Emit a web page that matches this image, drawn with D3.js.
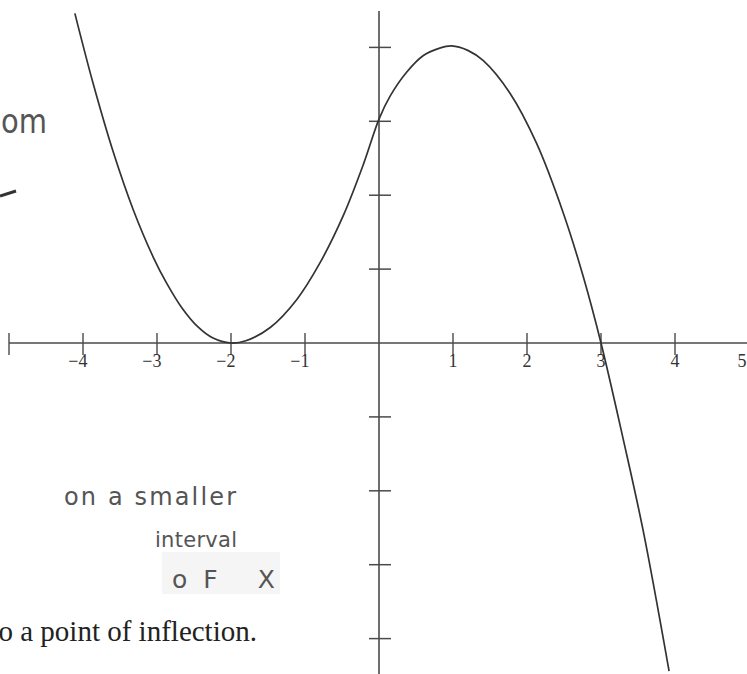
<!DOCTYPE html>
<html>
<head>
<meta charset="utf-8">
<script src="https://cdn.jsdelivr.net/npm/d3@7"></script>
<style>
  html, body { margin: 0; padding: 0; background: #fff; }
  svg { display: block; }
</style>
</head>
<body>
<svg id="chart" width="747" height="674"></svg>
<script>
// Sampled points along the curve y = f(x)
const curveX = [-4.11, -3.86, -3.59, -3.32, -3.05, -2.87, -2.66, -2.45, -2.25, -2.0, -1.80, -1.47, -1.11, -0.80, -0.48, -0.21, 0.0, 0.15, 0.37, 0.60, 0.82, 0.98, 1.20, 1.41, 1.77, 2.13, 2.49, 2.76, 3.0, 3.30, 3.57, 3.92];
const curveY = [4.46, 3.50, 2.58, 1.80, 1.16, 0.81, 0.47, 0.22, 0.07, 0.0, 0.03, 0.21, 0.59, 1.08, 1.73, 2.42, 3.03, 3.34, 3.66, 3.89, 3.99, 4.02, 3.96, 3.82, 3.38, 2.70, 1.76, 0.90, 0.0, -1.30, -2.54, -4.44];

// Axis ticks
const xTicks = [-5, -4, -3, -2, -1, 1, 2, 3, 4, 5];
const xTickLabels = ["", "−4", "−3", "−2", "−1", "1", "2", "3", "4", "5"];
const yTicks = [-4, -3, -2, -1, 1, 2, 3, 4];

// Handwritten notes
const noteLines = ["on a smaller", "interval", "oF X"];

const svg = d3.select("#chart");
const W = 747, H = 674;

const x = d3.scaleLinear().domain([-5, 5]).range([9, 749]);
const y = d3.scaleLinear().domain([-4, 4]).range([638.6, 47.4]);

const axisColor = "#4a4a4a";
const x0 = x(0), y0 = y(0);

// faint patch of the page behind the last note line
svg.append("rect")
  .attr("x", 162).attr("y", 552).attr("width", 118).attr("height", 42)
  .attr("fill", "#f5f5f5");

// x-axis line
svg.append("line")
  .attr("x1", x(-5)).attr("x2", W)
  .attr("y1", y0).attr("y2", y0)
  .attr("stroke", axisColor).attr("stroke-width", 1.4);

// y-axis line
svg.append("line")
  .attr("x1", x0).attr("x2", x0)
  .attr("y1", 11).attr("y2", H)
  .attr("stroke", axisColor).attr("stroke-width", 1.6);

// x ticks
svg.append("g").selectAll("line").data(xTicks).join("line")
  .attr("x1", d => x(d)).attr("x2", d => x(d))
  .attr("y1", y0 - 10).attr("y2", y0 + 12)
  .attr("stroke", axisColor).attr("stroke-width", 1.4);

// y ticks
svg.append("g").selectAll("line").data(yTicks).join("line")
  .attr("x1", x0 - 10).attr("x2", x0 + 12)
  .attr("y1", d => y(d)).attr("y2", d => y(d))
  .attr("stroke", axisColor).attr("stroke-width", 1.5);

// x tick labels: digit centred on its tick, minus sign hanging to the left;
// the last one is pulled in so it stays on the page
svg.append("g").selectAll("text").data(xTicks).join("text")
  .attr("x", d => d < 0 ? x(d) + 4.5 : Math.min(x(d), W - 5))
  .attr("y", y0 + 24)
  .attr("text-anchor", d => d < 0 ? "end" : "middle")
  .attr("font-family", "Liberation Serif, Times New Roman, serif")
  .attr("font-size", 18)
  .attr("fill", "#333")
  .text((d, i) => xTickLabels[i]);

// the curve
const pts = curveX.map((v, i) => [v, curveY[i]]);
const line = d3.line()
  .x(d => x(d[0]))
  .y(d => y(d[1]))
  .curve(d3.curveCatmullRom.alpha(0.5));

svg.append("path")
  .datum(pts)
  .attr("d", line)
  .attr("fill", "none")
  .attr("stroke", "#333")
  .attr("stroke-width", 1.7);

// handwritten margin notes
const hand = svg.append("g")
  .attr("font-family", "DejaVu Sans, sans-serif")
  .attr("fill", "#555");

hand.append("text")
  .attr("x", 1).attr("y", 133)
  .attr("font-size", 34)
  .attr("textLength", 46)
  .attr("lengthAdjust", "spacingAndGlyphs")
  .text("om");

// short pen stroke at the left margin
hand.append("path")
  .attr("d", "M0,196 L16,191")
  .attr("stroke", "#333")
  .attr("stroke-width", 3)
  .attr("fill", "none");

const noteX = [64, 155, 172];
const noteY = [505, 547, 588];
const noteLen = [172, 82, 103];
const noteSize = [24, 21, 25];
hand.selectAll("text.note").data(noteLines).join("text")
  .attr("class", "note")
  .attr("x", (d, i) => noteX[i])
  .attr("y", (d, i) => noteY[i])
  .attr("font-size", (d, i) => noteSize[i])
  .attr("textLength", (d, i) => noteLen[i])
  .attr("lengthAdjust", "spacing")
  .text(d => d);

// printed line of body text (its first word runs off the left edge)
svg.append("text")
  .attr("x", 257).attr("y", 641)
  .attr("text-anchor", "end")
  .attr("font-family", "Liberation Serif, Times New Roman, serif")
  .attr("font-size", 29)
  .attr("fill", "#222")
  .text("to a point of inflection.");
</script>
</body>
</html>
